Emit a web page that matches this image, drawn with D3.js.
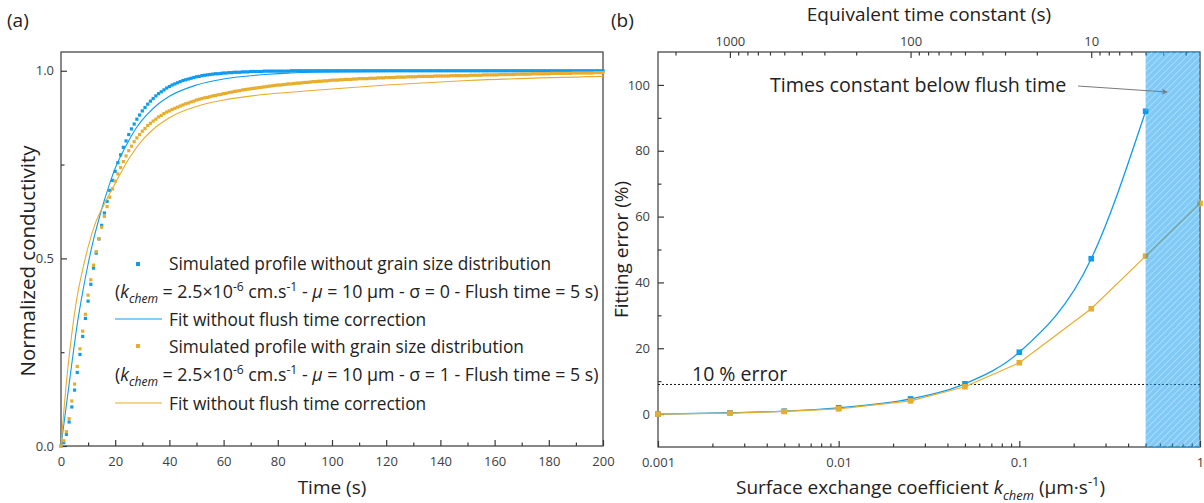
<!DOCTYPE html>
<html>
<head>
<meta charset="utf-8">
<script src="https://cdn.jsdelivr.net/npm/d3@7"></script>
<style>
  body { margin: 0; background: #fff; }
  svg text { font-family: "Open Sans", "Noto Sans", sans-serif; white-space: pre; }
</style>
</head>
<body>
<svg id="chart" width="1204" height="503"></svg>
<script>
// ---- panel (a) data : one sample per second, t = index * dt
const dt = 1;
const simBlue = [
  0, 0.009, 0.031, 0.064, 0.104, 0.149, 0.196, 0.244, 0.292, 0.340,
  0.386, 0.431, 0.474, 0.514, 0.552, 0.588, 0.621, 0.652, 0.681, 0.708,
  0.732, 0.755, 0.776, 0.796, 0.813, 0.830, 0.845, 0.858, 0.871, 0.882,
  0.893, 0.902, 0.911, 0.919, 0.926, 0.933, 0.939, 0.944, 0.949, 0.954,
  0.958, 0.962, 0.965, 0.968, 0.971, 0.974, 0.976, 0.978, 0.980, 0.982,
  0.984, 0.985, 0.987, 0.988, 0.989, 0.990, 0.991, 0.992, 0.992, 0.993,
  0.994, 0.994, 0.995, 0.995, 0.996, 0.996, 0.996, 0.997, 0.997, 0.997,
  0.998, 0.998, 0.998, 0.998, 0.998, 0.999, 0.999, 0.999, 0.999, 0.999,
  0.999, 0.999, 0.999, 0.999, 0.999, 1, 1, 1, 1, 1,
  1, 1, 1, 1, 1, 1, 1, 1, 1, 1,
  1, 1, 1, 1, 1, 1, 1, 1, 1, 1,
  1, 1, 1, 1, 1, 1, 1, 1, 1, 1,
  1, 1, 1, 1, 1, 1, 1, 1, 1, 1,
  1, 1, 1, 1, 1, 1, 1, 1, 1, 1,
  1, 1, 1, 1, 1, 1, 1, 1, 1, 1,
  1, 1, 1, 1, 1, 1, 1, 1, 1, 1,
  1, 1, 1, 1, 1, 1, 1, 1, 1, 1,
  1, 1, 1, 1, 1, 1, 1, 1, 1, 1,
  1, 1, 1, 1, 1, 1, 1, 1, 1, 1,
  1, 1, 1, 1, 1, 1, 1, 1, 1, 1,
  1
];
const simOrange = [
  0, 0.014, 0.038, 0.073, 0.120, 0.165, 0.212, 0.259, 0.306, 0.351,
  0.402, 0.443, 0.482, 0.518, 0.552, 0.583, 0.612, 0.638, 0.663, 0.685,
  0.706, 0.725, 0.742, 0.758, 0.773, 0.787, 0.799, 0.811, 0.821, 0.830,
  0.839, 0.846, 0.854, 0.860, 0.866, 0.871, 0.877, 0.881, 0.886, 0.890,
  0.893, 0.897, 0.900, 0.903, 0.906, 0.909, 0.912, 0.914, 0.917, 0.919,
  0.922, 0.924, 0.926, 0.928, 0.929, 0.931, 0.933, 0.934, 0.936, 0.937,
  0.939, 0.940, 0.942, 0.943, 0.945, 0.946, 0.947, 0.949, 0.950, 0.951,
  0.952, 0.953, 0.954, 0.955, 0.956, 0.957, 0.958, 0.959, 0.960, 0.961,
  0.962, 0.962, 0.963, 0.964, 0.965, 0.965, 0.966, 0.967, 0.967, 0.968,
  0.969, 0.969, 0.970, 0.971, 0.971, 0.972, 0.972, 0.973, 0.973, 0.974,
  0.975, 0.975, 0.975, 0.976, 0.976, 0.977, 0.977, 0.977, 0.978, 0.978,
  0.979, 0.979, 0.979, 0.979, 0.980, 0.980, 0.980, 0.981, 0.981, 0.981,
  0.982, 0.982, 0.982, 0.982, 0.983, 0.983, 0.983, 0.983, 0.984, 0.984,
  0.984, 0.984, 0.985, 0.985, 0.985, 0.985, 0.985, 0.985, 0.986, 0.986,
  0.986, 0.986, 0.986, 0.986, 0.987, 0.987, 0.987, 0.987, 0.987, 0.987,
  0.987, 0.988, 0.988, 0.988, 0.988, 0.988, 0.989, 0.989, 0.989, 0.989,
  0.989, 0.989, 0.990, 0.990, 0.990, 0.990, 0.990, 0.990, 0.991, 0.991,
  0.991, 0.991, 0.991, 0.991, 0.992, 0.992, 0.992, 0.992, 0.992, 0.992,
  0.992, 0.993, 0.993, 0.993, 0.993, 0.993, 0.993, 0.993, 0.993, 0.994,
  0.994, 0.994, 0.994, 0.994, 0.994, 0.994, 0.994, 0.995, 0.995, 0.995,
  0.995
];
const fitBlueT = [0, 2, 4, 6, 8, 10, 12, 14, 16, 18, 20, 24, 28, 32, 36, 40, 50, 60, 75, 100, 150, 200];
const fitBlueV = [0, 0.11, 0.22, 0.325, 0.41, 0.485, 0.55, 0.605, 0.655, 0.70, 0.74, 0.80, 0.85, 0.885, 0.912, 0.932, 0.962, 0.978, 0.99, 0.997, 0.999, 1.0];
const fitOrangeT = [0, 2, 4, 6, 8, 10, 13, 16, 20, 25, 30, 35, 40, 50, 60, 75, 90, 120, 150, 200];
const fitOrangeV = [0, 0.17, 0.30, 0.40, 0.47, 0.53, 0.60, 0.645, 0.70, 0.765, 0.815, 0.85, 0.875, 0.905, 0.922, 0.937, 0.946, 0.962, 0.974, 0.985];
const timeTicks = [0, 20, 40, 60, 80, 100, 120, 140, 160, 180, 200];
const timeMinor = [10, 30, 50, 70, 90, 110, 130, 150, 170, 190];
const condTicks = [0, 0.5, 1.0];
const condMinor = [0.25, 0.75];

// ---- panel (b) data
const kValues = [0.001, 0.0025, 0.005, 0.01, 0.025, 0.05, 0.1, 0.25, 0.5, 1];
const errBlue = [0, 0.4, 0.9, 1.9, 4.6, 9.2, 18.8, 47.2, 92.0, null];
const errOrange = [0, 0.3, 0.8, 1.6, 4.0, 8.3, 15.6, 32.0, 48.0, 64.0];
const errorLimit = 9;
const flushTime = 5;          // s
const tauFactor = 2.5;        // tau = tauFactor / k
const kTicks = [0.001, 0.01, 0.1, 1];
const kMinor = [0.002, 0.003, 0.004, 0.005, 0.006, 0.007, 0.008, 0.009,
                0.02, 0.03, 0.04, 0.05, 0.06, 0.07, 0.08, 0.09,
                0.2, 0.3, 0.4, 0.5, 0.6, 0.7, 0.8, 0.9];
const errTicks = [0, 20, 40, 60, 80, 100];
const errMinor = [10, 30, 50, 70, 90];
const tauTicks = [1000, 100, 10];
const tauMinor = [2000, 900, 800, 700, 600, 500, 400, 300, 200,
                  90, 80, 70, 60, 50, 40, 30, 20, 9, 8, 7, 6, 5, 4, 3];

const blue = '#0E9CEF', orange = '#E8AD2F';
const axisColor = '#3a3a3a', tickText = '#404040', titleColor = '#222';
const font = '"Open Sans", "Noto Sans", sans-serif';

const svg = d3.select('#chart');
const defs = svg.append('defs');

function richText(parent, x, y, parts, size) {
    const t = parent.append('text').attr('x', x).attr('y', y)
        .attr('font-size', size).attr('fill', titleColor);
    let shift = 0;
    parts.forEach(p => {
        const target = p.sub ? size * 0.3 : p.sup ? -size * 0.42 : 0;
        t.append('tspan')
            .attr('dy', target - shift)
            .attr('font-size', (p.sub || p.sup) ? size * 0.68 : size)
            .attr('font-style', p.it ? 'italic' : 'normal')
            .text(p.s);
        shift = target;
    });
    return t;
}

function drawAxis(g, axis, minorAxis) {
    g.call(axis);
    if (minorAxis) g.append('g').call(minorAxis);
    g.selectAll('.domain').remove();
    g.selectAll('line').attr('stroke', axisColor).attr('stroke-width', 1.2);
    g.selectAll('text').attr('fill', tickText).attr('font-size', 13).attr('font-family', font);
}

// ================= panel (a) =================
const A = {left: 61, right: 603, top: 52, bottom: 446};
const xTime = d3.scaleLinear().domain([0, 200]).range([A.left, A.right]);
const yCond = d3.scaleLinear().domain([0, 1.05]).range([A.bottom, A.top]);

const ga = svg.append('g');

drawAxis(ga.append('g').attr('transform', `translate(0,${A.bottom})`),
    d3.axisBottom(xTime).tickValues(timeTicks).tickFormat(d3.format('d')).tickSizeInner(-6).tickSizeOuter(0).tickPadding(11),
    d3.axisBottom(xTime).tickValues(timeMinor).tickFormat('').tickSizeInner(-3.5).tickSizeOuter(0));
drawAxis(ga.append('g').attr('transform', `translate(${A.left},0)`),
    d3.axisLeft(yCond).tickValues(condTicks).tickFormat(d3.format('.1f')).tickSizeInner(-6).tickSizeOuter(0).tickPadding(7),
    d3.axisLeft(yCond).tickValues(condMinor).tickFormat('').tickSizeInner(-3.5).tickSizeOuter(0));

ga.append('rect')
    .attr('x', A.left).attr('y', A.top)
    .attr('width', A.right - A.left).attr('height', A.bottom - A.top)
    .attr('fill', 'none').attr('stroke', axisColor).attr('stroke-width', 1.2);

const fitLine = d3.line().x(d => xTime(d[0])).y(d => yCond(d[1])).curve(d3.curveMonotoneX);

ga.append('g').selectAll('rect').data(simBlue).join('rect')
    .attr('x', (d, i) => xTime(i * dt) - 1.6)
    .attr('y', d => yCond(d) - 1.6)
    .attr('width', 3.2).attr('height', 3.2)
    .attr('fill', blue);
ga.append('path')
    .attr('d', fitLine(d3.zip(fitBlueT, fitBlueV)))
    .attr('fill', 'none').attr('stroke', blue).attr('stroke-width', 1.1);
ga.append('g').selectAll('rect').data(simOrange).join('rect')
    .attr('x', (d, i) => xTime(i * dt) - 1.6)
    .attr('y', d => yCond(d) - 1.6)
    .attr('width', 3.2).attr('height', 3.2)
    .attr('fill', orange);
ga.append('path')
    .attr('d', fitLine(d3.zip(fitOrangeT, fitOrangeV)))
    .attr('fill', 'none').attr('stroke', orange).attr('stroke-width', 1.1);

// legend
const lg = ga.append('g');
const legSize = 17.3;
lg.append('rect').attr('x', 136).attr('y', 262).attr('width', 4).attr('height', 4).attr('fill', blue);
richText(lg, 169, 270, [{s: 'Simulated profile without grain size distribution'}], legSize);
richText(lg, 115, 298, [
    {s: '('}, {s: 'k', it: true}, {s: 'chem', it: true, sub: true},
    {s: ' = 2.5×10'}, {s: '-6', sup: true}, {s: ' cm.s'}, {s: '-1', sup: true},
    {s: ' - '}, {s: 'μ', it: true}, {s: ' = 10 μm - σ = 0 - Flush time = 5 s)'}], legSize + 0.5);
lg.append('line').attr('x1', 115).attr('x2', 162).attr('y1', 319).attr('y2', 319)
    .attr('stroke', blue).attr('stroke-width', 1.2);
richText(lg, 169, 326, [{s: 'Fit without flush time correction'}], legSize);
lg.append('rect').attr('x', 136).attr('y', 344).attr('width', 4).attr('height', 4).attr('fill', orange);
richText(lg, 169, 353, [{s: 'Simulated profile with grain size distribution'}], legSize);
richText(lg, 115, 381, [
    {s: '('}, {s: 'k', it: true}, {s: 'chem', it: true, sub: true},
    {s: ' = 2.5×10'}, {s: '-6', sup: true}, {s: ' cm.s'}, {s: '-1', sup: true},
    {s: ' - '}, {s: 'μ', it: true}, {s: ' = 10 μm - σ = 1 - Flush time = 5 s)'}], legSize + 0.5);
lg.append('line').attr('x1', 115).attr('x2', 162).attr('y1', 403).attr('y2', 403)
    .attr('stroke', orange).attr('stroke-width', 1.2);
richText(lg, 169, 410, [{s: 'Fit without flush time correction'}], legSize);

// titles
ga.append('text').attr('x', 7).attr('y', 27).attr('font-size', 19).attr('fill', titleColor).text('(a)');
ga.append('text').attr('x', (A.left + A.right) / 2).attr('y', 494).attr('text-anchor', 'middle')
    .attr('font-size', 19).attr('fill', titleColor).text('Time (s)');
ga.append('text').attr('transform', `translate(35,${(A.top + A.bottom) / 2 + 12}) rotate(-90)`)
    .attr('text-anchor', 'middle').attr('font-size', 20.5).attr('fill', titleColor).text('Normalized conductivity');

// ================= panel (b) =================
const B = {left: 658, right: 1200, top: 52, bottom: 447};
const xK = d3.scaleLog().domain([0.001, 1]).range([B.left, B.right]);
const yErr = d3.scaleLinear().domain([-10, 110]).range([B.bottom, B.top]);
const xTau = d3.scaleLog().domain([tauFactor / 0.001, tauFactor / 1]).range([B.left, B.right]);

const gb = svg.append('g');

drawAxis(gb.append('g').attr('transform', `translate(0,${B.bottom})`),
    d3.axisBottom(xK).tickValues(kTicks).tickFormat(d => String(d)).tickSizeInner(-6).tickSizeOuter(0).tickPadding(11),
    d3.axisBottom(xK).tickValues(kMinor).tickFormat('').tickSizeInner(-3.5).tickSizeOuter(0));
drawAxis(gb.append('g').attr('transform', `translate(${B.left},0)`),
    d3.axisLeft(yErr).tickValues(errTicks).tickSizeInner(-6).tickSizeOuter(0).tickPadding(8),
    d3.axisLeft(yErr).tickValues(errMinor).tickFormat('').tickSizeInner(-3.5).tickSizeOuter(0));
drawAxis(gb.append('g').attr('transform', `translate(0,${B.top})`),
    d3.axisTop(xTau).tickValues(tauTicks).tickFormat(d3.format('d')).tickSizeInner(-6).tickSizeOuter(0).tickPadding(6),
    d3.axisTop(xTau).tickValues(tauMinor).tickFormat('').tickSizeInner(-3.5).tickSizeOuter(0));

gb.append('rect')
    .attr('x', B.left).attr('y', B.top)
    .attr('width', B.right - B.left).attr('height', B.bottom - B.top)
    .attr('fill', 'none').attr('stroke', axisColor).attr('stroke-width', 1.2);

// 10 % error line
gb.append('line')
    .attr('x1', B.left).attr('x2', B.right)
    .attr('y1', yErr(errorLimit)).attr('y2', yErr(errorLimit))
    .attr('stroke', '#111').attr('stroke-width', 1).attr('stroke-dasharray', '2,2');
gb.append('text').attr('x', 692).attr('y', 381).attr('font-size', 19.5).attr('fill', titleColor).text('10 % error');

const blueData = kValues.map((k, i) => ({k, e: errBlue[i]})).filter(d => d.e !== null);
const orangeData = kValues.map((k, i) => ({k, e: errOrange[i]}));

gb.append('path')
    .attr('d', d3.line().x(d => xK(d.k)).y(d => yErr(d.e)).curve(d3.curveMonotoneX)(blueData))
    .attr('fill', 'none').attr('stroke', blue).attr('stroke-width', 1.3);
gb.append('g').selectAll('rect').data(blueData).join('rect')
    .attr('x', d => xK(d.k) - 2.8).attr('y', d => yErr(d.e) - 2.8)
    .attr('width', 5.6).attr('height', 5.6).attr('fill', blue);
gb.append('path')
    .attr('d', d3.line().x(d => xK(d.k)).y(d => yErr(d.e))(orangeData))
    .attr('fill', 'none').attr('stroke', orange).attr('stroke-width', 1.2);
gb.append('g').selectAll('rect').data(orangeData).join('rect')
    .attr('x', d => xK(d.k) - 2.8).attr('y', d => yErr(d.e) - 2.8)
    .attr('width', 5.6).attr('height', 5.6).attr('fill', orange);

// hatched area : time constants below flush time
const pat = defs.append('pattern').attr('id', 'hatch')
    .attr('patternUnits', 'userSpaceOnUse').attr('width', 4.6).attr('height', 4.6)
    .attr('patternTransform', 'rotate(45)');
pat.append('line').attr('x1', 0).attr('y1', 0).attr('x2', 0).attr('y2', 4.6)
    .attr('stroke', '#fff').attr('stroke-width', 1.2).attr('stroke-opacity', 0.55);
const hx = xTau(flushTime);
gb.append('rect').attr('x', hx).attr('y', B.top)
    .attr('width', B.right - hx).attr('height', B.bottom - B.top)
    .attr('fill', '#0096F0').attr('fill-opacity', 0.5);
gb.append('rect').attr('x', hx).attr('y', B.top)
    .attr('width', B.right - hx).attr('height', B.bottom - B.top)
    .attr('fill', 'url(#hatch)');

// annotation
defs.append('marker').attr('id', 'arrow').attr('viewBox', '0 0 10 10')
    .attr('refX', 9).attr('refY', 5).attr('markerWidth', 9).attr('markerHeight', 6)
    .attr('orient', 'auto').attr('markerUnits', 'userSpaceOnUse')
    .append('path').attr('d', 'M0,0 L10,5 L0,10 L3,5 Z').attr('fill', '#7a7a7a');
gb.append('text').attr('x', 770).attr('y', 92).attr('font-size', 19.7).attr('fill', titleColor)
    .text('Times constant below flush time');
gb.append('line').attr('x1', 1078).attr('y1', 86).attr('x2', 1167).attr('y2', 92)
    .attr('stroke', '#7a7a7a').attr('stroke-width', 1.2).attr('marker-end', 'url(#arrow)');

// titles
gb.append('text').attr('x', 611).attr('y', 27).attr('font-size', 19).attr('fill', titleColor).text('(b)');
gb.append('text').attr('x', 929).attr('y', 21).attr('text-anchor', 'middle')
    .attr('font-size', 19).attr('fill', titleColor).text('Equivalent time constant (s)');
richText(gb, 736, 494, [
    {s: 'Surface exchange coefficient '}, {s: 'k', it: true}, {s: 'chem', it: true, sub: true},
    {s: ' (μm·s'}, {s: '-1', sup: true}, {s: ')'}], 19);
gb.append('text').attr('transform', `translate(628,${(B.top + B.bottom) / 2}) rotate(-90)`)
    .attr('text-anchor', 'middle').attr('font-size', 19).attr('fill', titleColor).text('Fitting error (%)');
</script>
</body>
</html>
